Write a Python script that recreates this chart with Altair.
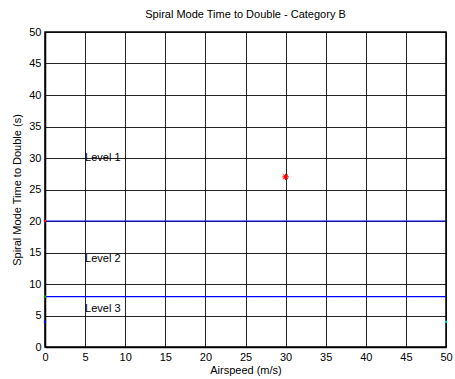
import altair as alt
import pandas as pd

# Level boundaries (s) and annotations
boundary_values = [20, 8]
level_labels = ["Level 1", "Level 2", "Level 3"]
level_label_x = [5, 5, 5]
level_label_y = [30, 14, 6]

# Measured point
airspeed = [30]
time_to_double = [27]

# Small boundary markers at the plot edges
edge_x = [0, 0, 0, 50]
edge_y = [20, 8, 4, 4]
edge_color = ["#ff0000", "#00aa00", "#0000ff", "#00cccc"]

x_ticks = list(range(0, 51, 5))
y_ticks = list(range(0, 51, 5))

FONT = "Liberation Sans"

xs = alt.Scale(domain=[0, 50], nice=False, zero=False)
ys = alt.Scale(domain=[0, 50], nice=False, zero=False)

x_axis = alt.Axis(values=x_ticks, title="Airspeed (m/s)", grid=True,
                  gridColor="#000000", gridOpacity=0.85, gridWidth=1, domainColor="#000000",
                  domainWidth=1.5, ticks=False, labelPadding=4, labelFontSize=11,
                  titleFontSize=11, labelFont=FONT, titleFont=FONT, titleFontWeight="normal",
                  labelColor="#000000", titleColor="#000000", titlePadding=2,
                  labelOverlap=False, labelFlush=False)
y_axis = alt.Axis(values=y_ticks, title="Spiral Mode Time to Double (s)",
                  grid=True, gridColor="#000000", gridOpacity=0.85, gridWidth=1,
                  domainColor="#000000", domainWidth=1.5, ticks=False, labelPadding=4,
                  labelFontSize=11, titleFontSize=11, labelFont=FONT, titleFont=FONT,
                  titleFontWeight="normal", labelColor="#000000", titleColor="#000000",
                  titlePadding=6, labelOverlap=False, labelFlush=False)

X = lambda: alt.X("x:Q", scale=xs, axis=None)
Y = lambda: alt.Y("y:Q", scale=ys, axis=None)

bounds = pd.DataFrame({"y": boundary_values})
labels = pd.DataFrame({"x": level_label_x, "y": level_label_y, "t": level_labels})
pts = pd.DataFrame({"x": airspeed, "y": time_to_double})
edges = pd.DataFrame({"x": edge_x, "y": edge_y, "c": edge_color})

base_grid = alt.Chart(pts).mark_point(opacity=0).encode(
    x=alt.X("x:Q", scale=xs, axis=x_axis),
    y=alt.Y("y:Q", scale=ys, axis=y_axis),
)

lines = alt.Chart(bounds).mark_rule(color="#0000ff", strokeWidth=1.2).encode(y=Y())

text = alt.Chart(labels).mark_text(align="left", baseline="middle", font=FONT,
                                   fontSize=11, color="#000000").encode(
    x=X(), y=Y(), text="t:N"
)

asterisk = "M-1,0L1,0M0,-1L0,1M-0.7,-0.7L0.7,0.7M-0.7,0.7L0.7,-0.7"
star = alt.Chart(pts).mark_point(shape=asterisk, color="#ff0000", filled=False,
                                 size=40, strokeWidth=1.1, opacity=1).encode(x=X(), y=Y())

edge_marks = alt.Chart(edges).mark_point(shape="square", filled=True, size=5, opacity=1).encode(
    x=X(), y=Y(), color=alt.Color("c:N", scale=None)
)

chart = alt.layer(base_grid, lines, text, star, edge_marks).resolve_axis(
    x="independent", y="independent"
).properties(
    width=401, height=315,
    title=alt.TitleParams("Spiral Mode Time to Double - Category B", font=FONT,
                          fontSize=11, fontWeight="normal", color="#000000", offset=6),
    autosize=alt.AutoSizeParams(type="none"),
    padding={"left": 45, "top": 32, "right": 9, "bottom": 32},
).configure(background="#ffffff").configure_view(stroke="#000000", strokeWidth=1.5)

chart.save("out.html", embed_options={"renderer": "svg", "actions": False})
